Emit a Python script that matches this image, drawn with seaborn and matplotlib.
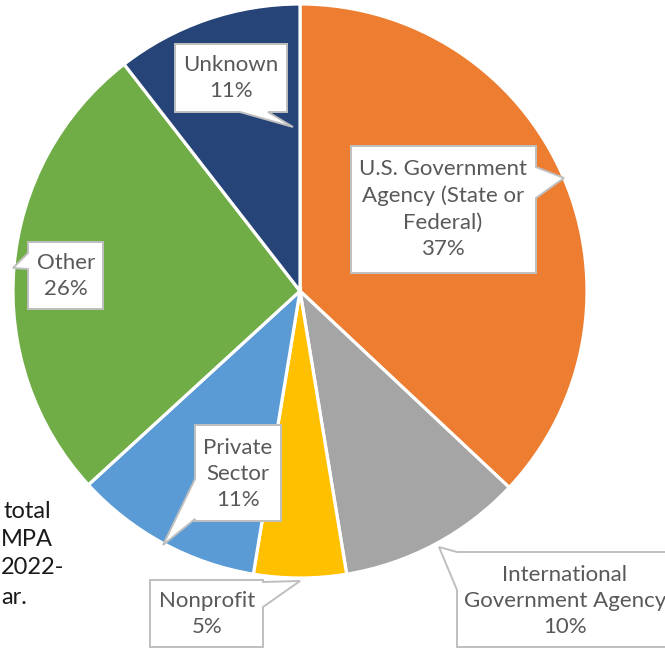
"""
Pie chart: share of projects by sponsor type, with callout labels
"""

import matplotlib
matplotlib.use('Agg')
import matplotlib.pyplot as plt
from matplotlib.patches import Polygon
import seaborn as sns

# data (clockwise from 12 o'clock)
categories = ['U.S. Government Agency (State or Federal)',
              'International Government Agency',
              'Nonprofit', 'Private Sector', 'Other', 'Unknown']
shares = [37.0, 10.4, 5.2, 10.6, 26.3, 10.5]     # wedge sizes as drawn
pct_labels = [37, 10, 5, 11, 26, 11]             # percentages printed
label_text = ['U.S. Government\nAgency (State or\nFederal)',
              'International\nGovernment Agency',
              'Nonprofit', 'Private\nSector', 'Other', 'Unknown']
colors = ['#ED7D31', '#A5A5A5', '#FFC000', '#5B9BD5', '#70AD47', '#264478']

# leftover text at the left edge (clipped paragraph)
side_lines = ['total', 'MPA', '2022-', 'ar.']

W, H = 665, 648

# callout layout in pixel coords (y down): box, pointer side, pointer base, tip
callouts = [
    dict(box=(351, 146, 536, 273), side='right', base=(167, 198), tip=(564, 178)),
    dict(box=(457, 552, 690, 647), side='left', base=(552, 590), tip=(439, 547)),
    dict(box=(150, 580, 263, 647), side='right', base=(582, 607), tip=(300, 581)),
    dict(box=(195, 425, 281, 521), side='left', base=(479, 519), tip=(163, 545)),
    dict(box=(28, 242, 103, 309), side='left', base=(253, 269), tip=(13, 268)),
    dict(box=(175, 44, 287, 112), side='bottom', base=(240, 268), tip=(293, 127)),
]
text_pos = [(443, 209), (565, 601), (207, 614), (238, 474), (66, 276), (231, 78)]


def callout_vertices(box, side, base, tip):
    x0, y0, x1, y1 = box
    a, b = base
    pts = [(x0, y0)]
    if side == 'top':
        pts += [(a, y0), tip, (b, y0)]
    pts.append((x1, y0))
    if side == 'right':
        pts += [(x1, a), tip, (x1, b)]
    pts.append((x1, y1))
    if side == 'bottom':
        pts += [(b, y1), tip, (a, y1)]
    pts.append((x0, y1))
    if side == 'left':
        pts += [(x0, b), tip, (x0, a)]
    # flip to y-up data coords
    return [(x, H - y) for x, y in pts]


sns.set_theme(style='white')
plt.rcParams['font.family'] = ['Lato', 'DejaVu Sans']

fig = plt.figure(figsize=(W / 100, H / 100), dpi=100)
ax = fig.add_axes([0, 0, 1, 1])

ax.pie(shares, colors=colors, startangle=90, counterclock=False,
       center=(300, H - 291), radius=287, frame=True,
       wedgeprops=dict(edgecolor='white', linewidth=2.3))
ax.set_xlim(0, W)
ax.set_ylim(0, H)
ax.set_aspect('equal')
ax.axis('off')

for pct, text, c, (tx, ty) in zip(pct_labels, label_text, callouts, text_pos):
    poly = Polygon(callout_vertices(**c), closed=True, facecolor='white',
                   edgecolor='#BFBFBF', linewidth=1.4, zorder=5)
    ax.add_patch(poly)
    ax.text(tx, H - ty, f'{text}\n{pct}%', ha='center', va='center',
            fontsize=16, color='#595959', linespacing=1.4, zorder=6)

side_left = [3, 1, 1, 1]
side_y = [511, 540, 568, 597]
for txt, xl, y in zip(side_lines, side_left, side_y):
    ax.text(xl, H - y, txt, ha='left', va='center', fontsize=17,
            color='#1a1a1a', zorder=1)

fig.savefig('out.png', dpi=100)
plt.close(fig)
